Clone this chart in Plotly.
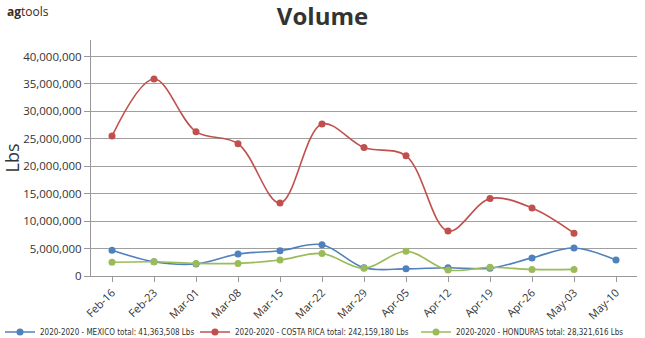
import plotly.graph_objects as go

weeks = ["Feb-16", "Feb-23", "Mar-01", "Mar-08", "Mar-15", "Mar-22", "Mar-29",
         "Apr-05", "Apr-12", "Apr-19", "Apr-26", "May-03", "May-10"]

mexico = [4.7e6, 2.6e6, 2.2e6, 4.0e6, 4.6e6, 5.7e6, 1.5e6,
          1.3e6, 1.5e6, 1.4e6, 3.3e6, 5.1e6, 2.9e6]
costa_rica = [25.5e6, 35.9e6, 26.3e6, 24.1e6, 13.3e6, 27.7e6, 23.4e6,
              21.9e6, 8.2e6, 14.1e6, 12.4e6, 7.8e6]
honduras = [2.5e6, 2.6e6, 2.3e6, 2.3e6, 2.9e6, 4.1e6, 1.4e6,
            4.5e6, 1.1e6, 1.6e6, 1.2e6, 1.2e6]

series_names = [
    "2020-2020 - MEXICO total: 41,363,508 Lbs",
    "2020-2020 - COSTA RICA total: 242,159,180 Lbs",
    "2020-2020 - HONDURAS total: 28,321,616 Lbs",
]
colors = ["#4F81BD", "#C0504D", "#9BBB59"]
# one single-entry legend per series, laid out in a row under the axis
legend_ids = ["legend", "legend2", "legend3"]
legend_x = [-0.0124, 0.3023, 0.645]

fig = go.Figure()
for name, vals, col, lid in zip(series_names, [mexico, costa_rica, honduras],
                                colors, legend_ids):
    fig.add_trace(go.Scatter(
        x=weeks[:len(vals)], y=vals, name=name, mode="lines+markers",
        line=dict(color=col, width=1.6, shape="spline", smoothing=1.0),
        marker=dict(color=col, size=7), legend=lid,
    ))

legend_style = dict(
    orientation="h", xref="container", xanchor="left",
    yref="container", y=0.0178, yanchor="middle",
    font=dict(family="DejaVu Sans Condensed, DejaVu Sans", size=8, color="#333333"),
    itemwidth=30, itemsizing="trace", bgcolor="rgba(0,0,0,0)",
)

fig.update_layout(
    width=645, height=338,
    margin=dict(l=91, r=8, t=40, b=62),
    paper_bgcolor="white", plot_bgcolor="white",
    font=dict(family="Open Sans, DejaVu Sans, sans-serif", color="#333333"),
    title=dict(text="<b>Volume</b>", x=0.5, xref="container", xanchor="center",
               y=0.95, yref="container", yanchor="middle",
               font=dict(family="Open Sans, DejaVu Sans", size=24, color="#333333")),
    showlegend=True,
    hovermode=False,
)
for lid, lx in zip(legend_ids, legend_x):
    fig.update_layout({lid: dict(legend_style, x=lx)})

fig.update_xaxes(
    type="category", range=[-0.5, 12.5], tickangle=-45,
    showgrid=False, showline=True, linecolor="#999999", linewidth=1,
    ticks="outside", ticklen=5, tickcolor="#999999",
    tickfont=dict(size=11, color="#333333"), automargin=False,
)
fig.update_yaxes(
    range=[0, 43e6], tickvals=[i * 5e6 for i in range(9)], tickformat=",d",
    showgrid=True, gridcolor="#A0A0A0", gridwidth=1,
    showline=True, linecolor="#999999", linewidth=1,
    ticks="outside", ticklen=6, tickcolor="#999999",
    tickfont=dict(size=11.5, color="#333333"), zeroline=False, automargin=False,
    title=dict(text="Lbs", font=dict(size=18, color="#333333"), standoff=6),
)
fig.add_annotation(
    text="<b>ag</b>tools", xref="paper", yref="paper",
    x=-0.158, y=1.165, xanchor="left", yanchor="top", showarrow=False,
    font=dict(family="Open Sans, DejaVu Sans", size=12, color="#3a2a20"),
)

fig.write_html("out.html")
